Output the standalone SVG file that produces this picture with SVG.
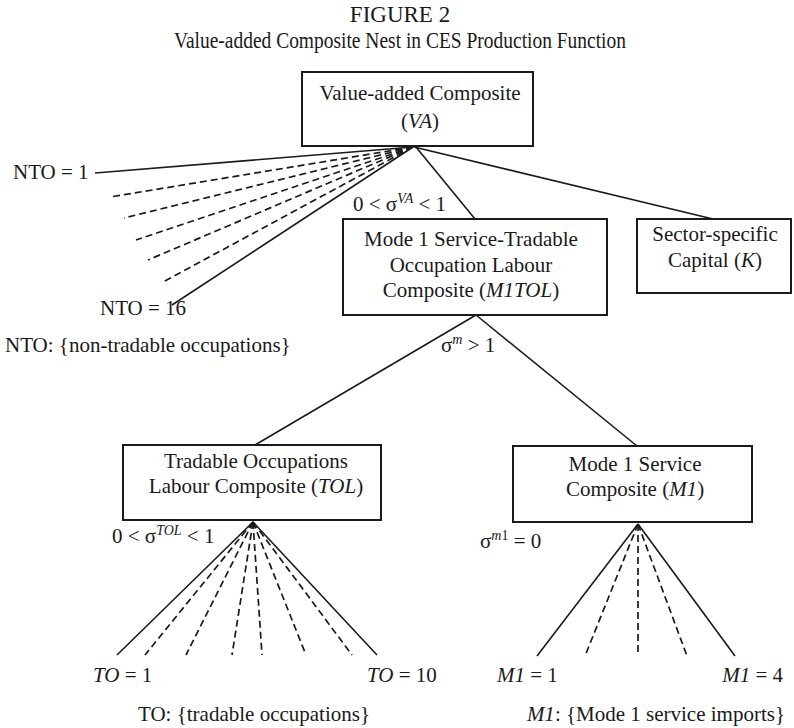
<svg xmlns="http://www.w3.org/2000/svg" width="794" height="728" viewBox="0 0 794 728">
<style>
text{font-family:"Liberation Serif","Times New Roman",serif;fill:#1a1a1a;font-size:21px}
.t{font-size:23px}
.st{font-size:23px}
.c{text-anchor:middle}
.e{text-anchor:end}
.i{font-style:italic}
.sup{font-size:14px}
.box{fill:#fff;stroke:#1a1a1a;stroke-width:2}
.ln{stroke:#1a1a1a;stroke-width:1.6;fill:none}
.ds{stroke:#1a1a1a;stroke-width:1.7;fill:none;stroke-dasharray:7 4}
</style>
<rect width="794" height="728" fill="#fff"/>
<text class="t c" x="400" y="22">FIGURE 2</text>
<text class="st c" x="400" y="48" textLength="452" lengthAdjust="spacingAndGlyphs">Value-added Composite Nest in CES Production Function</text>

<g id="connectors">
  <line class="ln" x1="413" y1="147" x2="95" y2="173"/>
  <line class="ds" x1="413" y1="147" x2="110" y2="197"/>
  <line class="ds" x1="413" y1="147" x2="124" y2="218"/>
  <line class="ds" x1="413" y1="147" x2="136" y2="240"/>
  <line class="ds" x1="413" y1="147" x2="148" y2="260"/>
  <line class="ds" x1="413" y1="147" x2="163" y2="282"/>
  <line class="ln" x1="413" y1="147" x2="172" y2="305"/>
  <line class="ln" x1="416" y1="147" x2="475" y2="219"/>
  <line class="ln" x1="414" y1="147" x2="713" y2="219"/>
  <line class="ln" x1="476" y1="315" x2="255" y2="445"/>
  <line class="ln" x1="476" y1="315" x2="637" y2="446"/>
  <line class="ln" x1="253" y1="522" x2="117" y2="655"/>
  <line class="ds" x1="253" y1="522" x2="145" y2="655"/>
  <line class="ds" x1="253" y1="522" x2="186" y2="655"/>
  <line class="ds" x1="253" y1="522" x2="232" y2="655"/>
  <line class="ds" x1="253" y1="522" x2="262" y2="655"/>
  <line class="ds" x1="253" y1="522" x2="306" y2="655"/>
  <line class="ds" x1="253" y1="522" x2="352" y2="655"/>
  <line class="ln" x1="253" y1="522" x2="377" y2="655"/>
  <line class="ln" x1="638" y1="524" x2="537" y2="656"/>
  <line class="ds" x1="638" y1="524" x2="585" y2="656"/>
  <line class="ds" x1="638" y1="524" x2="638" y2="656"/>
  <line class="ds" x1="638" y1="524" x2="687" y2="656"/>
  <line class="ln" x1="638" y1="524" x2="735" y2="656"/>
</g>

<g id="node-va">
  <rect class="box" x="302" y="72" width="231" height="74"/>
  <text class="c" x="420" y="100">Value-added Composite</text>
  <text class="c" x="420" y="128">(<tspan class="i">VA</tspan>)</text>
</g>
<g id="node-m1tol">
  <rect class="box" x="343" y="219" width="264" height="96"/>
  <text class="c" x="471" y="246">Mode 1 Service-Tradable</text>
  <text class="c" x="471" y="272">Occupation Labour</text>
  <text class="c" x="471" y="297">Composite (<tspan class="i">M1TOL</tspan>)</text>
</g>
<g id="node-k">
  <rect class="box" x="637" y="219" width="154" height="74"/>
  <text class="c" x="715" y="241">Sector-specific</text>
  <text class="c" x="715" y="267">Capital (<tspan class="i">K</tspan>)</text>
</g>
<g id="node-tol">
  <rect class="box" x="123" y="445" width="258" height="75"/>
  <text class="c" x="256" y="468">Tradable Occupations</text>
  <text class="c" x="256" y="493">Labour Composite (<tspan class="i">TOL</tspan>)</text>
</g>
<g id="node-m1">
  <rect class="box" x="513" y="446" width="239" height="76"/>
  <text class="c" x="635" y="471">Mode 1 Service</text>
  <text class="c" x="635" y="496">Composite (<tspan class="i">M1</tspan>)</text>
</g>

<g id="labels">
  <text x="13" y="179">NTO = 1</text>
  <text x="100" y="315">NTO = 16</text>
  <text x="5" y="352">NTO: {non-tradable occupations}</text>
  <text x="353" y="211">0 &lt; σ<tspan class="sup i" dy="-8">VA</tspan><tspan dy="8"> &lt; 1</tspan></text>
  <text x="441" y="352">σ<tspan class="sup i" dy="-8">m</tspan><tspan dy="8"> &gt; 1</tspan></text>
  <text x="112" y="543">0 &lt; σ<tspan class="sup i" dy="-8">TOL</tspan><tspan dy="8"> &lt; 1</tspan></text>
  <text x="480" y="548">σ<tspan class="sup i" dy="-8">m</tspan><tspan class="sup" dy="0">1</tspan><tspan dy="8"> = 0</tspan></text>
  <text x="93" y="682"><tspan class="i">TO</tspan> = 1</text>
  <text x="367" y="682"><tspan class="i">TO</tspan> = 10</text>
  <text x="497" y="682"><tspan class="i">M1</tspan> = 1</text>
  <text class="e" x="783" y="682"><tspan class="i">M1</tspan> = 4</text>
  <text x="138" y="721">TO: {tradable occupations}</text>
  <text class="e" x="785" y="721"><tspan class="i">M1</tspan>: {Mode 1 service imports}</text>
</g>
</svg>
